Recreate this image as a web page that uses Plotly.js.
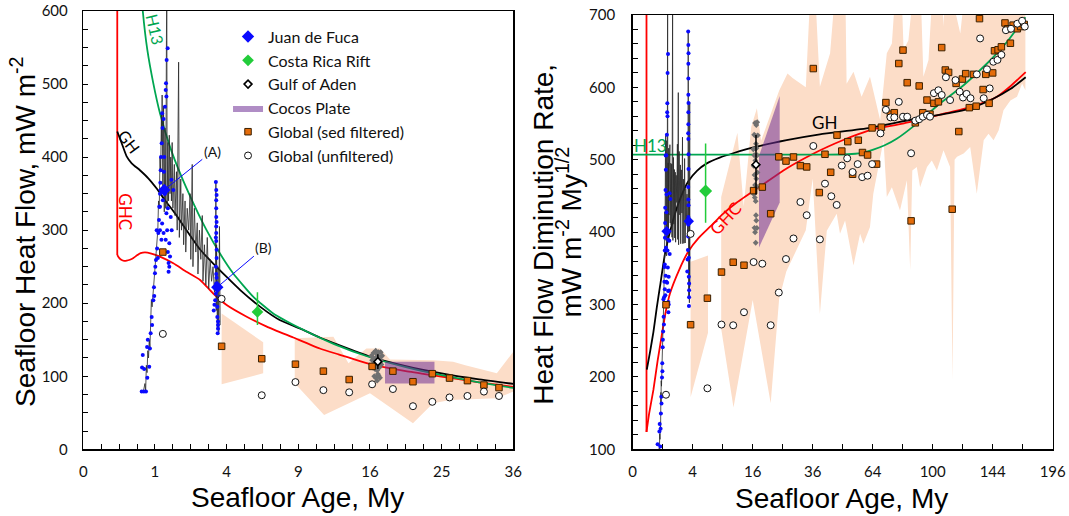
<!DOCTYPE html>
<html><head><meta charset="utf-8">
<script src="https://cdn.plot.ly/plotly-3.0.1.min.js"></script>
<style>html,body{margin:0;padding:0;background:#fff}#chart{width:1069px;height:516px}</style>
</head><body><div id="chart"></div>
<script>
// x values are sqrt(seafloor age) in My^1/2 (the chart uses a square-root age axis)
// ---------- tick labels ----------
const ageTicksL = [0, 1, 4, 9, 16, 25, 36];
const ageTicksR = [0, 4, 16, 36, 64, 100, 144, 196];

// ---------- model curves, left panel (heat flow, mW m-2) ----------
const ghcRootL = [0.474,0.474,0.50,0.53,0.57,0.605,0.65,0.70,0.75,0.80,0.86,0.95,1.07,1.256,1.44,1.63,1.81,2.0,2.28,2.56,2.93,3.3,3.56,4.03,4.5,4.97,5.5,6.0];
const ghcHFL   = [1600,266,262,259.5,258,258.2,259.5,262,265.5,268.5,269.7,268,263.7,254.6,243,231.8,213.6,197.5,181.5,168,153,138,130,116,107,100,92,85.5];
const ghRootL  = [0.474,0.536,0.605,0.675,0.79,0.907,1.024,1.14,1.28,1.44,1.63,1.81,2.0,2.19,2.47,2.74,3.02,3.3,3.56,4.0,4.5,5.0,5.5,6.0];
const ghHFL    = [435,419,401,391.5,382,371,357,341,323,300,273.5,254.6,236,218,195,177,165.6,153,143,127,114,104,96,89.5];
const h13RootL = [0.80,0.83,0.893,0.977,1.07,1.21,1.35,1.535,1.72,1.907,2.09,2.37,2.65,3.02,3.5,4.0,4.5,5.0,5.5,6.0];
const h13HFL   = [640,600,547,501,460,414,378,337,300,268,241,209,186,166,144,126,112.5,101.5,92,84];

// ---------- model curves, right panel (heat flow diminution rate) ----------
const ghcRootR = [0.46,0.46,0.55,0.69,0.83,0.97,1.1,1.24,1.55,1.85,2.2,2.58,3.0,3.47,4.24,5.13,6.0,6.5,7.0,7.5,8.0,9.0,10.0,11.0,11.5,12.14,12.6,13.1];
const ghcHFDR  = [760,124,150,182,222,258,290,315,348,373,392,407.5,425,441,463,488,508,518,527,535,542,550,560,570,576,587,602,621];
const ghRootR  = [0.47,0.58,0.69,0.8,0.91,1.08,1.35,1.6,1.85,2.15,2.47,2.9,3.35,4.13,5.13,6.24,7.91,9.47,10.5,11.25,12.0,12.6,13.1];
const ghHFDR   = [210,235,262,295,325,371,417,448,470,485,495,503,509,518,527,535,544,557,564,571,584,598,614];
const h13RootR = [0,6.5,7.3,7.7,8.02,8.4,8.8,9.47,10.25,11.03,11.81,12.48,13.09];
const h13HFDR  = [507,507,508,510,514,520,529,550,578,603,633,663,697];

// ---------- Juan de Fuca ----------
const jdfDotRoot = [0.815,0.875,0.845,0.83,0.85,0.82,0.893,0.92,0.89,0.93,0.90,0.94,0.954,0.96,0.977,0.986,0.99,1.0,1.005,1.014,1.03,1.04,1.047,1.056,1.06,1.07,1.075,1.08,1.084,1.094,1.10,1.105,1.12,1.14,1.154,1.163,1.177,1.15,1.16,1.13,1.125,1.024,1.07,1.09,1.12,1.15,1.17,1.2,1.21,1.19,1.19,1.233,1.22,1.16,1.1,1.07,1.11,1.256,1.23,1.18,1.2,1.14,1.18,
  1.85,1.855,1.855,1.855,1.86,1.85,1.855,1.84,1.82,1.87,1.88,1.875,1.85,1.90,1.855,1.855,1.855,1.86,1.855,1.85,1.855,1.86,1.86,1.85,1.86,1.83,1.88,1.87,1.88];
const jdfDotHF = [79,79,79,129,110,112,98,113,140,138,150,159,181,170,204,222,210,241,250,259,275,262,296,314,332,350,365,382,400,419,460,440,452,469,501,533,549,492,483,400,380,300,300,287,296,287,300,282,264,255,243,300,318,323,309,332,341,355,369,270,250,350,330,
  366,341,318,296,273,250,227,204,190,181,170,159,213,209,330,305,285,262,240,222,355,348,311,290,235,198,165,195,175];
const jdfLineRoot = [0.84,0.86,0.87,0.88,0.89,0.90,0.91,0.92,0.93,0.94,0.945,0.95,0.96,0.98,1.00,1.02,1.04,1.05,1.06,1.07,1.08,1.09,1.095,1.10,1.11,1.12,1.13,1.14,1.15,1.16,1.165,1.17,1.18,1.19,1.20,1.21,1.22,1.23,1.24,1.25,1.27,1.28,1.30,1.31,1.33,1.34,1.36,1.37,1.39,1.40,1.42,1.43,1.45,1.47,1.49,1.50,1.52,1.53,1.55,1.57,1.59,1.60,1.62,1.64,1.66,1.67,1.69,1.71,1.73,1.75,1.77,1.79,1.81,1.83,1.845,1.85,1.855,1.86,1.87,1.88,1.89,1.90,1.91];
const jdfLineHF = [80,90,80,115,105,135,125,150,140,190,175,205,195,225,250,270,300,340,330,400,380,460,420,485,350,470,325,440,330,560,640,330,420,340,430,350,400,340,420,330,390,320,380,300,530,290,370,300,350,280,340,270,330,300,350,260,390,250,330,270,310,240,300,260,320,230,280,225,290,220,260,230,250,215,240,365,190,280,165,250,160,305,170];
const jdfMeanRoot = [1.13, 1.87];
const jdfMeanHF   = [355, 222];

// ---------- Costa Rica Rift ----------
const crrRoot = [2.43];
const crrHF = [188];
const crrErrPlus = [27];
const crrErrMinus = [18];

// ---------- Gulf of Aden ----------
const goaRoot = [4.11];
const goaHF = [120];
const goaErr = [10];
const goaDotRoot = [4.02,4.05,4.08,4.10,4.13,4.15,4.03,4.06,4.09,4.12,4.14,4.17,4.04,4.07,4.10,4.13,4.16,4.09,4.11,4.11,4.08,4.14,4.10,4.06,4.12,4.05,4.15,4.08,4.12];
const goaDotHF   = [128,132,135,130,125,133,122,118,126,115,119,128,112,110,108,112,116,122,127,103,98,98,94,100,101,125,122,114,133];

// ---------- Cocos Plate ----------
const cocosRoot = [4.21, 4.90, 4.90, 4.21];
const cocosHF   = [90, 90, 120, 120];

// ---------- Global data (age <= 36 My, heat flow) ----------
const sedRoot = [1.11,1.93,2.49,2.96,3.35,3.71,4.03,4.32,4.60,4.87,5.11,5.36,5.59,5.80];
const sedHF   = [270,141,124,116.5,107,95.5,113.5,107,92.5,103.5,97.5,94,88,84.5];
const unfRoot = [1.11,1.93,2.49,2.96,3.35,3.71,4.03,4.32,4.60,4.87,5.11,5.36,5.59,5.80];
const unfHF   = [158,206,74,92,81,78,89,82.5,59,65,71,73,79,73];
// ---------- Global data (age > 36 My, diminution rate) ----------
const sedRootOld = [6.02,6.22,6.41,6.60,6.81,6.97,7.17,7.33,7.52,7.66,7.83,7.98,8.13,8.29,8.44,8.59,8.72,8.87,9.01,9.15,9.28,9.42,9.55,9.67,9.81,9.91,10.04,10.19,10.30,10.42,10.53,10.65,10.78,10.87,10.99,11.10,11.22,11.36,11.45,11.56,11.68,11.77,11.88,12.0,12.06,12.18,12.29,12.41,12.50,12.59,12.68,12.82,12.93,13.05];
const sedHFDROld = [626,454.7,507.6,482.7,534,512,525,480,527,510,506.6,544,494,545,579,563,565,633,651.5,606.5,415.6,551,602,565,582.5,563,578,580,655,624,620.7,431.7,605.5,539,611.5,619,572,618,574,695,597,618,578,620,650.6,652,656,689,681,661,686,681,684,687];
const unfRootOld = [6.02,6.24,6.41,6.62,6.80,6.97,7.15,7.33,7.50,7.65,7.83,7.98,8.26,8.44,8.59,8.72,8.87,9.01,9.15,9.28,9.42,9.55,9.67,9.81,9.91,10.04,10.19,10.30,10.44,10.58,10.76,10.90,11.01,11.13,11.26,11.47,11.58,11.70,11.81,11.90,12.02,12.16,12.29,12.44,12.61,12.82,12.98,13.07];
const unfHFDROld = [519,390,467,449.6,437.6,492,502,483,494,476,478,494,536.5,569,558.6,558.6,580,559.5,559.5,509,554,556,559.5,562,559.5,592,596,589.5,614,582.5,610,594,586,591,585,618,667.6,585,625,598.6,635.4,638,645,679,681,688,692,684];

// ---------- Global spread band ----------
const band1UpRoot = [1.93, 2.51];
const band1UpHF   = [186, 146.5];
const band1LoRoot = [1.93, 2.51];
const band1LoHF   = [89, 104];
const band2UpRoot = [2.95,3.49,3.70,3.95,4.14,4.28,4.88,5.16,5.33,5.77,6.0];
const band2UpHF   = [152,154,117.7,138,138,123,122,120,115,104,133.6];
const band2LoRoot = [2.95,3.36,4.0,4.6,4.88,5.12,5.77,6.0];
const band2LoHF   = [90.3,47,76.6,35.6,63,67.5,69.8,79];
const bandUpRootOld = [6.24,6.58,6.80,7.08,7.13,7.36,7.63,7.91,8.25,8.47,8.64,8.80,8.94,9.03,9.19,9.42,9.58,9.69,9.86,10.03,10.30,10.36,10.45,10.92,11.14,13.09];
const bandUpHFDROld = [600.8,647,760,760,605,621.5,587,614.6,554.6,647,660.7,760,760,651.5,665,760,760,614.6,637.7,760,760,684,760,674.6,760,760];
const bandLoRootOld = [6.24,6.47,6.80,6.91,7.08,7.36,7.58,7.69,7.91,8.02,8.36,8.47,8.64,8.91,9.14,9.25,9.32,9.47,9.58,9.81,9.97,10.14,10.36,10.58,10.66,10.73,10.81,11.03,11.25,11.47,11.70,11.86,12.03,12.20,12.36,12.59,12.81,12.98,13.09];
const bandLoHFDROld = [287,402,425.5,397.8,416,354,397.8,384,407,453,527,448.5,462,430,471.6,347,485,490,462,490,499,485,513,490,195,500,504,508.5,517.7,453,527,536,527,540.8,568.5,582,587,605.4,596];

// ---------- helpers ----------
const mul = (r, q) => r.map((s, i) => s * q[i]);
const poly = (xu, yu, xl, yl) => ({ x: xu.concat(xl.slice().reverse()), y: yu.concat(yl.slice().reverse()) });

const PEACH = 'rgb(252,221,200)';
const PURPLE = 'rgba(112,48,150,0.55)';
const BLUE = '#0a0aff';
const RED = '#ff0000';
const GREEN = '#00a651';
const CRGREEN = '#22cc3a';
const ORANGE = '#e46c0a';

const L = { xaxis: 'x', yaxis: 'y' };
const R = { xaxis: 'x2', yaxis: 'y2' };
const traces = [];
function add(t, ax) { traces.push(Object.assign({ hoverinfo: 'skip', showlegend: false }, ax, t)); }

// bands
const b1 = poly(band1UpRoot, band1UpHF, band1LoRoot, band1LoHF);
const b2 = poly(band2UpRoot, band2UpHF, band2LoRoot, band2LoHF);
add({ type: 'scatter', mode: 'lines', x: b1.x, y: b1.y, fill: 'toself', fillcolor: PEACH, line: { width: 0 } }, L);
add({ type: 'scatter', mode: 'lines', x: b2.x, y: b2.y, fill: 'toself', fillcolor: PEACH, line: { width: 0 } }, L);
const rb1 = poly(band1UpRoot, mul(band1UpRoot, band1UpHF), band1LoRoot, mul(band1LoRoot, band1LoHF));
const rb2 = poly(band2UpRoot.concat(bandUpRootOld), mul(band2UpRoot, band2UpHF).concat(bandUpHFDROld),
                 band2LoRoot.concat(bandLoRootOld), mul(band2LoRoot, band2LoHF).concat(bandLoHFDROld));
add({ type: 'scatter', mode: 'lines', x: rb1.x, y: rb1.y, fill: 'toself', fillcolor: PEACH, line: { width: 0 } }, R);
add({ type: 'scatter', mode: 'lines', x: rb2.x, y: rb2.y, fill: 'toself', fillcolor: PEACH, line: { width: 0 } }, R);

// model curves (the vertical start of GHC drawn straight, the rest smoothed)
const sp = { shape: 'spline', smoothing: 0.5, width: 1.8 };
add({ type: 'scatter', mode: 'lines', x: ghcRootL.slice(0, 2), y: ghcHFL.slice(0, 2), line: { color: RED, width: 1.8 } }, L);
add({ type: 'scatter', mode: 'lines', x: ghcRootL.slice(1), y: ghcHFL.slice(1), line: Object.assign({ color: RED }, sp) }, L);
add({ type: 'scatter', mode: 'lines', x: ghRootL, y: ghHFL, line: Object.assign({ color: '#000' }, sp) }, L);
add({ type: 'scatter', mode: 'lines', x: h13RootL, y: h13HFL, line: Object.assign({ color: GREEN }, sp) }, L);
add({ type: 'scatter', mode: 'lines', x: ghcRootR.slice(0, 2), y: ghcHFDR.slice(0, 2), line: { color: RED, width: 1.8 } }, R);
add({ type: 'scatter', mode: 'lines', x: ghcRootR.slice(1), y: ghcHFDR.slice(1), line: Object.assign({ color: RED }, sp) }, R);
add({ type: 'scatter', mode: 'lines', x: ghRootR, y: ghHFDR, line: Object.assign({ color: '#000' }, sp) }, R);
add({ type: 'scatter', mode: 'lines', x: h13RootR, y: h13HFDR, line: Object.assign({ color: GREEN }, sp) }, R);

// Juan de Fuca noisy profile
add({ type: 'scatter', mode: 'lines', x: jdfLineRoot, y: jdfLineHF, line: { color: 'rgba(40,40,40,0.8)', width: 1 } }, L);
add({ type: 'scatter', mode: 'lines', x: jdfLineRoot, y: mul(jdfLineRoot, jdfLineHF), line: { color: 'rgba(40,40,40,0.8)', width: 1 } }, R);

// Cocos plate
add({ type: 'scatter', mode: 'lines', name: 'Cocos Plate', showlegend: true, legendrank: 4, x: cocosRoot, y: cocosHF, fill: 'toself', fillcolor: PURPLE, line: { width: 0 } }, L);
add({ type: 'scatter', mode: 'lines', x: cocosRoot, y: mul(cocosRoot, cocosHF), fill: 'toself', fillcolor: PURPLE, line: { width: 0 } }, R);

// Juan de Fuca dots
add({ type: 'scatter', mode: 'markers', x: jdfDotRoot, y: jdfDotHF, marker: { color: BLUE, size: 4 } }, L);
add({ type: 'scatter', mode: 'markers', x: jdfDotRoot, y: mul(jdfDotRoot, jdfDotHF), marker: { color: BLUE, size: 4 } }, R);

// Gulf of Aden individual values
add({ type: 'scatter', mode: 'markers', x: goaDotRoot, y: goaDotHF, marker: { color: '#707070', size: 4.5, symbol: 'diamond' } }, L);
add({ type: 'scatter', mode: 'markers', x: goaDotRoot, y: mul(goaDotRoot, goaDotHF), marker: { color: '#707070', size: 4.5, symbol: 'diamond' } }, R);

// Global
const sqMarker = { symbol: 'square', color: ORANGE, size: 6.5, line: { color: '#3a2000', width: 1 } };
const ciMarker = { symbol: 'circle', color: '#fff', size: 7, line: { color: '#111', width: 1 } };
add({ type: 'scatter', mode: 'markers', name: 'Global (sed filtered)', showlegend: true, legendrank: 5, x: sedRoot, y: sedHF, marker: sqMarker }, L);
add({ type: 'scatter', mode: 'markers', x: sedRoot.concat(sedRootOld), y: mul(sedRoot, sedHF).concat(sedHFDROld), marker: sqMarker }, R);
add({ type: 'scatter', mode: 'markers', name: 'Global (unfiltered)', showlegend: true, legendrank: 6, x: unfRoot, y: unfHF, marker: ciMarker }, L);
add({ type: 'scatter', mode: 'markers', x: unfRoot.concat(unfRootOld), y: mul(unfRoot, unfHF).concat(unfHFDROld), marker: ciMarker }, R);

// Costa Rica Rift
add({ type: 'scatter', mode: 'markers', name: 'Costa Rica Rift', showlegend: true, legendrank: 2, x: crrRoot, y: crrHF,
      error_y: { type: 'data', symmetric: false, array: crrErrPlus, arrayminus: crrErrMinus, color: CRGREEN, thickness: 1.5, width: 0 },
      marker: { symbol: 'diamond', color: CRGREEN, size: 9 } }, L);
add({ type: 'scatter', mode: 'markers', x: crrRoot, y: mul(crrRoot, crrHF),
      error_y: { type: 'data', symmetric: false, array: mul(crrRoot, crrErrPlus), arrayminus: mul(crrRoot, crrErrMinus), color: CRGREEN, thickness: 1.5, width: 0 },
      marker: { symbol: 'diamond', color: CRGREEN, size: 10 } }, R);

// Gulf of Aden mean
add({ type: 'scatter', mode: 'markers', name: 'Gulf of Aden', showlegend: true, legendrank: 3, x: goaRoot, y: goaHF,
      error_y: { type: 'data', array: goaErr, color: '#000', thickness: 1.5, width: 0 },
      marker: { symbol: 'diamond', color: '#fff', size: 6, line: { color: '#000', width: 1.6 } } }, L);
add({ type: 'scatter', mode: 'markers', x: goaRoot, y: mul(goaRoot, goaHF),
      error_y: { type: 'data', array: mul(goaRoot, goaErr), color: '#000', thickness: 1.5, width: 0 },
      marker: { symbol: 'diamond', color: '#fff', size: 6, line: { color: '#000', width: 1.6 } } }, R);

// Juan de Fuca means
add({ type: 'scatter', mode: 'markers', name: 'Juan de Fuca', showlegend: true, legendrank: 1, x: jdfMeanRoot, y: jdfMeanHF,
      marker: { symbol: 'diamond', color: BLUE, size: 9.5 } }, L);
add({ type: 'scatter', mode: 'markers', x: jdfMeanRoot, y: mul(jdfMeanRoot, jdfMeanHF), marker: { symbol: 'diamond', color: BLUE, size: 8 } }, R);

const tickFont = { family: 'Lato, sans-serif', size: 15, color: '#111' };
const baseAxis = { showgrid: false, zeroline: false, showline: true, linecolor: '#000', linewidth: 1.5, mirror: true,
  ticks: 'inside', ticklen: 5, tickwidth: 1, tickcolor: '#000', tickfont: tickFont, fixedrange: true };
const titleFont = { family: 'Liberation Sans, Arial, sans-serif', size: 28, color: '#000' };
const lab = (o) => Object.assign({ showarrow: false, xanchor: 'center', yanchor: 'middle' }, o);

const layout = {
  width: 1069, height: 516, margin: { l: 0, r: 0, t: 0, b: 0 }, paper_bgcolor: '#fff', plot_bgcolor: '#fff',
  showlegend: true,
  legend: { x: 0.2133, y: 0.962, xanchor: 'left', yanchor: 'top', bgcolor: 'rgba(0,0,0,0)', borderwidth: 0,
            font: { family: 'Lato, sans-serif', size: 16, color: '#111' }, traceorder: 'normal' },
  xaxis: Object.assign({}, baseAxis, { domain: [0.07792, 0.48017], range: [0, 6], anchor: 'y', tickmode: 'array',
    tickvals: ageTicksL.map(Math.sqrt), ticktext: ageTicksL.map(String), ticklabelstandoff: 8,
    minor: { ticks: 'inside', tick0: 0, dtick: 0.25, ticklen: 5, tickwidth: 1, tickcolor: '#000', showgrid: false } }),
  yaxis: Object.assign({}, baseAxis, { domain: [0.12926, 0.97868], range: [0, 600], anchor: 'x', tick0: 0, dtick: 100, ticklabelstandoff: 11,
    minor: { ticks: 'inside', tick0: 0, dtick: 25, ticklen: 5, tickwidth: 1, tickcolor: '#000', showgrid: false } }),
  xaxis2: Object.assign({}, baseAxis, { domain: [0.59186, 0.98475], range: [0, 14], anchor: 'y2', tickmode: 'array',
    tickvals: ageTicksR.map(Math.sqrt), ticktext: ageTicksR.map(String), ticklabelstandoff: 8,
    minor: { ticks: 'inside', tick0: 0, dtick: 1, ticklen: 5, tickwidth: 1, tickcolor: '#000', showgrid: false } }),
  yaxis2: Object.assign({}, baseAxis, { domain: [0.12926, 0.97093], range: [100, 700], anchor: 'x2', tick0: 100, dtick: 100, ticklabelstandoff: 13,
    minor: { ticks: 'inside', tick0: 100, dtick: 20, ticklen: 5, tickwidth: 1, tickcolor: '#000', showgrid: false } }),
  annotations: [
    { xref: 'x', yref: 'y', x: jdfMeanRoot[0], y: jdfMeanHF[0], axref: 'x', ayref: 'y', ax: 1.80, ay: 408, text: '(A)', showarrow: true,
      arrowhead: 0, arrowwidth: 1, arrowcolor: BLUE, standoff: 0, font: { family: 'Lato, sans-serif', size: 14, color: '#111' } },
    { xref: 'x', yref: 'y', x: jdfMeanRoot[1], y: jdfMeanHF[1], axref: 'x', ayref: 'y', ax: 2.52, ay: 276, text: '(B)', showarrow: true,
      arrowhead: 0, arrowwidth: 1, arrowcolor: BLUE, standoff: 0, font: { family: 'Lato, sans-serif', size: 14, color: '#111' } },
    lab({ xref: 'x', yref: 'y', x: 1.0, y: 574, text: 'H13', textangle: 77, font: { family: 'Lato, sans-serif', size: 16, color: GREEN } }),
    lab({ xref: 'x', yref: 'y', x: 0.64, y: 421, text: 'GH', textangle: 53, font: { family: 'Lato, sans-serif', size: 16, color: '#000' } }),
    lab({ xref: 'x', yref: 'y', x: 0.59, y: 325, text: 'GHC', textangle: 90, font: { family: 'Lato, sans-serif', size: 17, color: RED } }),
    lab({ xref: 'x2', yref: 'y2', x: 6.38, y: 552, text: 'GH', font: { family: 'Lato, sans-serif', size: 17, color: '#000' } }),
    lab({ xref: 'x2', yref: 'y2', x: 3.08, y: 419, text: 'GHC', textangle: -47, font: { family: 'Lato, sans-serif', size: 17, color: RED } }),
    lab({ xref: 'x2', yref: 'y2', x: 0.6, y: 520, text: 'H13', font: { family: 'Lato, sans-serif', size: 17, color: GREEN } }),
    lab({ xref: 'paper', yref: 'paper', x: 23 / 1069, y: 1 - 232 / 516, text: 'Seafloor Heat Flow, mW m<sup>-2</sup>', textangle: -90, font: titleFont }),
    lab({ xref: 'paper', yref: 'paper', x: 297.5 / 1069, y: 1 - 497 / 516, text: 'Seafloor Age, My', font: titleFont }),
    lab({ xref: 'paper', yref: 'paper', x: 841.6 / 1069, y: 1 - 498 / 516, text: 'Seafloor Age, My', font: titleFont }),
    lab({ xref: 'paper', yref: 'paper', x: 543.7 / 1069, y: 1 - 234 / 516, text: 'Heat Flow Diminution Rate,', textangle: -90, font: titleFont }),
    lab({ xref: 'paper', yref: 'paper', x: 569.5 / 1069, y: 1 - 232 / 516, text: 'mW m<sup>-2</sup> My<sup>1/2</sup>', textangle: -90, font: titleFont })
  ]
};

Plotly.newPlot('chart', traces, layout, { staticPlot: true, displayModeBar: false });
</script></body></html>
